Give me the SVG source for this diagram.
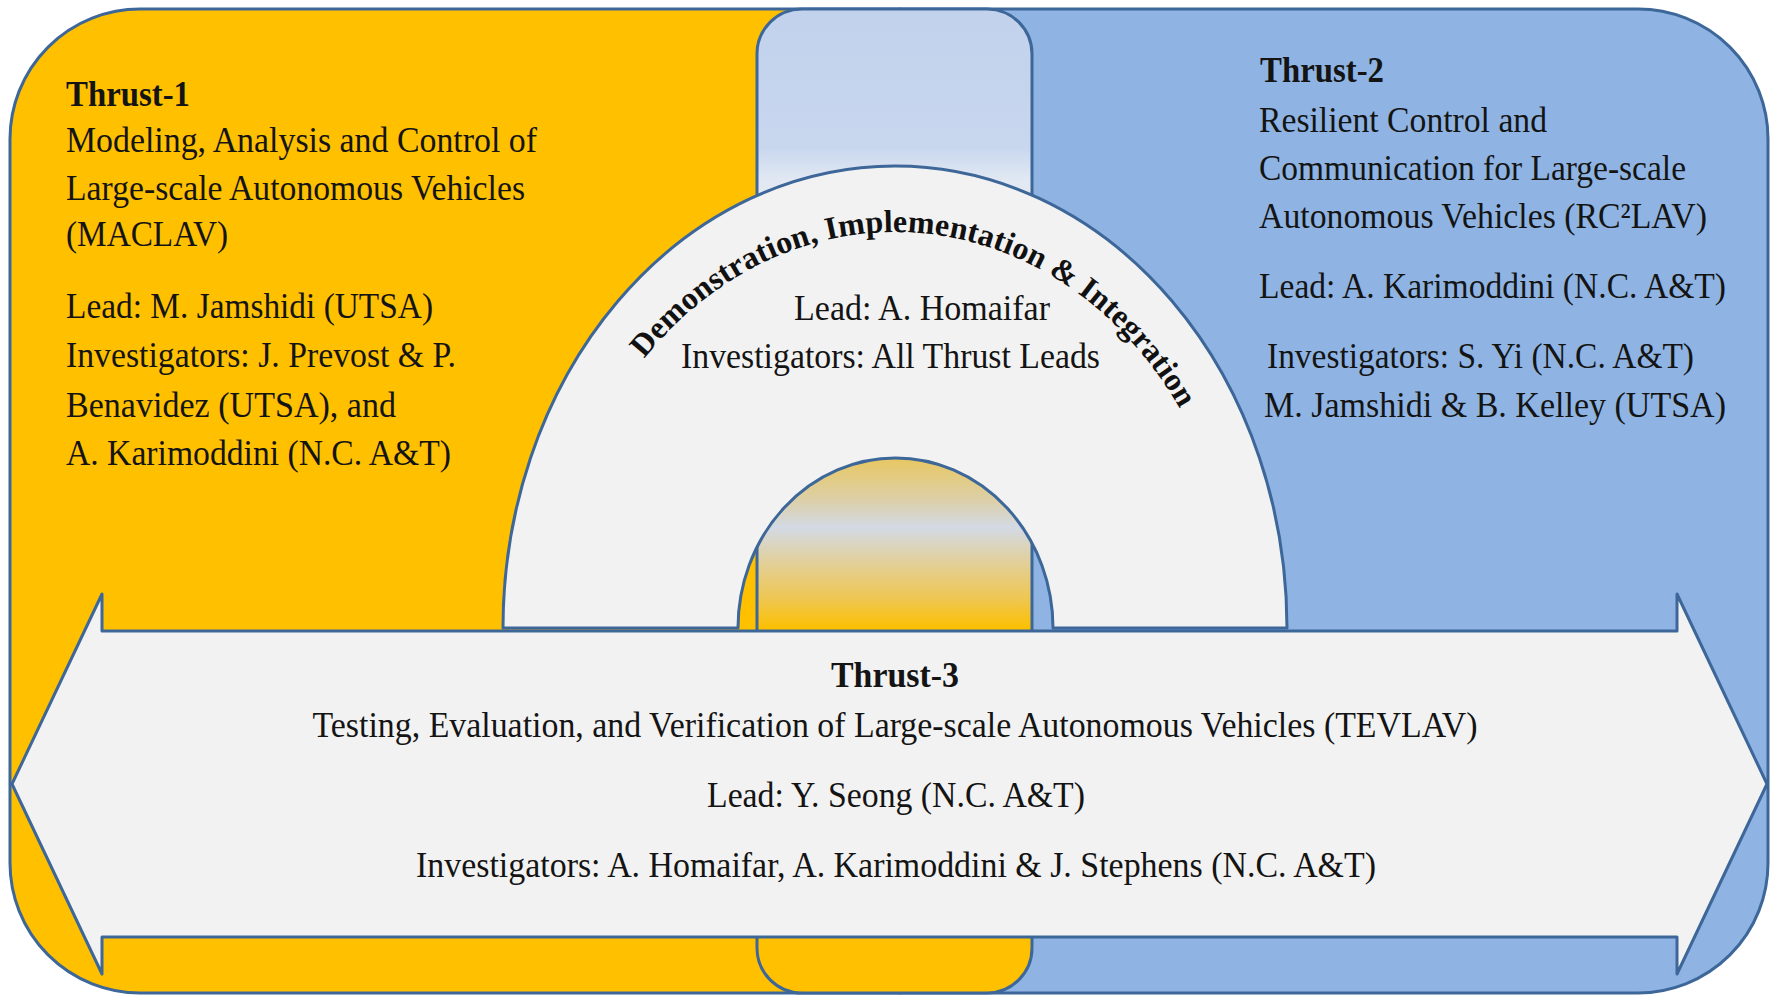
<svg xmlns="http://www.w3.org/2000/svg" xmlns:xlink="http://www.w3.org/1999/xlink" width="1771" height="997" viewBox="0 0 1771 997">
  <defs>
    <style>
      .panel { stroke: #3d6699; stroke-width: 3; stroke-linejoin: round; }
      .t { font-family: "Liberation Serif", "Times New Roman", serif; font-size: 35px; fill: #141414; }
      .b { font-weight: bold; }
      .arc { font-family: "Liberation Serif", "Times New Roman", serif; font-size: 32px; font-weight: bold; fill: #111; }
    </style>
    <!-- middle column shading: light blue at the top, warm band inside the inner arch -->
    <linearGradient id="colFill" gradientUnits="userSpaceOnUse" x1="0" y1="9" x2="0" y2="993">
      <stop offset="0" stop-color="#c2d2ec"/>
      <stop offset="0.14" stop-color="#c8d6ee"/>
      <stop offset="0.175" stop-color="#e2e9f3"/>
      <stop offset="0.40" stop-color="#e6d9a8"/>
      <stop offset="0.457" stop-color="#e8c762"/>
      <stop offset="0.50" stop-color="#dcd0aa"/>
      <stop offset="0.527" stop-color="#d3dae5"/>
      <stop offset="0.565" stop-color="#e3cf94"/>
      <stop offset="0.60" stop-color="#efc650"/>
      <stop offset="0.63" stop-color="#fcc000"/>
      <stop offset="1" stop-color="#ffc000"/>
    </linearGradient>
    <!-- baseline of the curved heading inside the big arch -->
    <path id="archText" d="M 553 628 A 342 396 0 0 1 1237 628"/>
  </defs>

  <!-- Thrust-1 panel (left) -->
  <g id="thrust1">
    <path class="panel" fill="#ffc000" d="M 900 9 L 140 9 A 130 130 0 0 0 10 139 L 10 863 A 130 130 0 0 0 140 993 L 900 993 Z"/>
  </g>

  <!-- Thrust-2 panel (right) -->
  <g id="thrust2">
    <path class="panel" fill="#8fb4e3" d="M 900 9 L 1638 9 A 130 130 0 0 1 1768 139 L 1768 863 A 130 130 0 0 1 1638 993 L 900 993 Z"/>
  </g>

  <!-- central column shared by the thrusts -->
  <g id="column">
    <rect class="panel" x="757" y="9" width="275" height="984" rx="45" ry="45" fill="url(#colFill)"/>
  </g>

  <!-- Demonstration, Implementation & Integration arch -->
  <g id="dii">
    <path class="panel" fill="#f2f2f2" d="M 503 628 A 392 462 0 0 1 1287 628 L 1053 628 A 157.5 170 0 0 0 738 628 Z"/>
    <text class="arc" text-anchor="middle"><textPath xlink:href="#archText" href="#archText" startOffset="52.6%" textLength="642">Demonstration, Implementation &amp; Integration</textPath></text>
    <text class="t" x="794" y="320" textLength="256" lengthAdjust="spacingAndGlyphs">Lead: A. Homaifar</text>
    <text class="t" x="681" y="368" textLength="419" lengthAdjust="spacingAndGlyphs">Investigators: All Thrust Leads</text>
  </g>

  <!-- Thrust-3 double arrow -->
  <g id="thrust3">
    <path class="panel" fill="#f2f2f2" d="M 12 784 L 102 594 L 102 631 L 1677 631 L 1677 594 L 1767 784 L 1677 974 L 1677 937 L 102 937 L 102 974 Z"/>
    <text class="t b" x="895" y="687" text-anchor="middle" textLength="128" lengthAdjust="spacingAndGlyphs">Thrust-3</text>
    <text class="t" x="895" y="737" text-anchor="middle" textLength="1165" lengthAdjust="spacingAndGlyphs">Testing, Evaluation, and Verification of Large-scale Autonomous Vehicles (TEVLAV)</text>
    <text class="t" x="896" y="807" text-anchor="middle" textLength="378" lengthAdjust="spacingAndGlyphs">Lead: Y. Seong (N.C. A&amp;T)</text>
    <text class="t" x="896" y="877" text-anchor="middle" textLength="960" lengthAdjust="spacingAndGlyphs">Investigators: A. Homaifar, A. Karimoddini &amp; J. Stephens (N.C. A&amp;T)</text>
  </g>

  <!-- Thrust-1 text -->
  <g id="thrust1-text">
    <text class="t b" x="66" y="106" textLength="124" lengthAdjust="spacingAndGlyphs">Thrust-1</text>
    <text class="t" x="66" y="152" textLength="471" lengthAdjust="spacingAndGlyphs">Modeling, Analysis and Control of</text>
    <text class="t" x="66" y="200" textLength="459" lengthAdjust="spacingAndGlyphs">Large-scale Autonomous Vehicles</text>
    <text class="t" x="66" y="246" textLength="162" lengthAdjust="spacingAndGlyphs">(MACLAV)</text>
    <text class="t" x="66" y="318" textLength="367" lengthAdjust="spacingAndGlyphs">Lead: M. Jamshidi (UTSA)</text>
    <text class="t" x="66" y="367" textLength="390" lengthAdjust="spacingAndGlyphs">Investigators: J. Prevost &amp; P.</text>
    <text class="t" x="66" y="417" textLength="330" lengthAdjust="spacingAndGlyphs">Benavidez (UTSA), and</text>
    <text class="t" x="66" y="465" textLength="385" lengthAdjust="spacingAndGlyphs">A. Karimoddini (N.C. A&amp;T)</text>
  </g>

  <!-- Thrust-2 text -->
  <g id="thrust2-text">
    <text class="t b" x="1260" y="82" textLength="124" lengthAdjust="spacingAndGlyphs">Thrust-2</text>
    <text class="t" x="1259" y="132" textLength="288" lengthAdjust="spacingAndGlyphs">Resilient Control and</text>
    <text class="t" x="1259" y="180" textLength="427" lengthAdjust="spacingAndGlyphs">Communication for Large-scale</text>
    <text class="t" x="1259" y="228" textLength="448" lengthAdjust="spacingAndGlyphs">Autonomous Vehicles (RC²LAV)</text>
    <text class="t" x="1259" y="298" textLength="467" lengthAdjust="spacingAndGlyphs">Lead: A. Karimoddini (N.C. A&amp;T)</text>
    <text class="t" x="1267" y="368" textLength="427" lengthAdjust="spacingAndGlyphs">Investigators: S. Yi (N.C. A&amp;T)</text>
    <text class="t" x="1264" y="417" textLength="462" lengthAdjust="spacingAndGlyphs">M. Jamshidi &amp; B. Kelley (UTSA)</text>
  </g>

  <g id="connectors"/>
</svg>
